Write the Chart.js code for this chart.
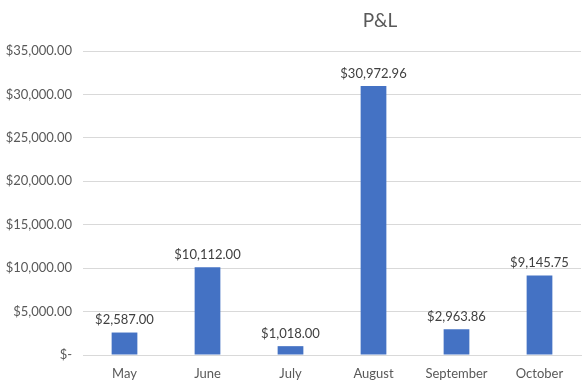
<!doctype html>
<html lang="en">

<head>
  <meta charset="UTF-8" />
  <script src="https://cdn.jsdelivr.net/npm/chart.js@4"></script>
  <style>
    html, body { margin: 0; padding: 0; background: #fff; }
    .chart-wrap { width: 587px; height: 388px; }
  </style>
</head>

<body>
  <div class="chart-wrap">
    <canvas id="plChart" width="587" height="388"></canvas>
  </div>
  <script>
    // data
    const months = ['May', 'June', 'July', 'August', 'September', 'October'];
    const plValues = [2587.00, 10112.00, 1018.00, 30972.96, 2963.86, 9145.75];
    const yTicks = [0, 5000, 10000, 15000, 20000, 25000, 30000, 35000];

    const money = function (v) {
      if (v === 0) return '$-';
      return '$' + v.toFixed(2).replace(/\B(?=(\d{3})+(?!\d))/g, ',');
    };

    const FONT = 'Lato, "Open Sans", sans-serif';

    // title + value labels over each bar
    const labelPlugin = {
      id: 'plLabels',
      afterDatasetsDraw: function (chart) {
        const ctx = chart.ctx;
        ctx.save();
        ctx.fillStyle = '#404040';
        ctx.font = '13px ' + FONT;
        ctx.textAlign = 'center';
        ctx.textBaseline = 'bottom';
        chart.getDatasetMeta(0).data.forEach(function (bar, i) {
          ctx.fillText(money(plValues[i]), bar.x, bar.y - 6);
        });
        // chart title
        ctx.fillStyle = '#595959';
        ctx.font = '19px ' + FONT;
        ctx.textBaseline = 'middle';
        ctx.fillText('P&L', 380, 21);
        ctx.restore();
      }
    };

    const ctx = document.getElementById('plChart').getContext('2d');
    const chart = new Chart(ctx, {
      type: 'bar',
      plugins: [labelPlugin],
      data: {
        labels: months,
        datasets: [{
          data: plValues,
          backgroundColor: '#4472C4',
          categoryPercentage: 1,
          barPercentage: 0.31
        }]
      },
      options: {
        responsive: false,
        animation: false,
        layout: {
          padding: { top: 51, right: 6, bottom: 0, left: 0 }
        },
        plugins: {
          legend: { display: false },
          tooltip: { enabled: false }
        },
        scales: {
          x: {
            afterFit: function (axis) { axis.height = 33; },
            grid: { display: false, drawTicks: false },
            border: { display: true, color: '#d9d9d9' },
            ticks: {
              color: '#595959',
              font: { family: FONT, size: 13 },
              padding: 11
            }
          },
          y: {
            min: 0,
            max: 35000,
            afterBuildTicks: function (axis) {
              axis.ticks = yTicks.map(function (v) { return { value: v }; });
            },
            afterFit: function (axis) { axis.width = 83; },
            grid: { color: '#d9d9d9', drawTicks: false },
            border: { display: false },
            ticks: {
              color: '#595959',
              font: { family: FONT, size: 13 },
              padding: 11,
              callback: function (v) { return money(v); }
            }
          }
        }
      }
    });
  </script>
</body>

</html>
